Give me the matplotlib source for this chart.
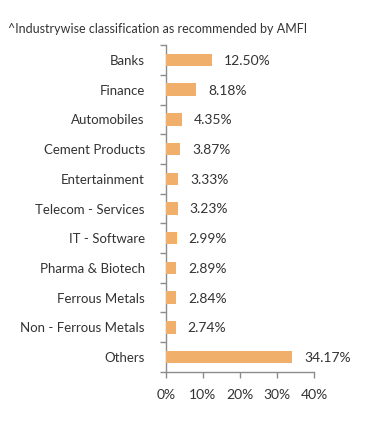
import matplotlib
matplotlib.use('Agg')
import matplotlib.pyplot as plt
import numpy as np

# ── Data ──────────────────────────────────────────────────────────────────────
industries = ['Banks', 'Finance', 'Automobiles', 'Cement Products', 'Entertainment',
              'Telecom - Services', 'IT - Software', 'Pharma & Biotech',
              'Ferrous Metals', 'Non - Ferrous Metals', 'Others']
weights = [12.50, 8.18, 4.35, 3.87, 3.33, 3.23, 2.99, 2.89, 2.84, 2.74, 34.17]
x_ticks = [0, 10, 20, 30, 40]

BAR_COL  = '#F0B06C'
AXIS_COL = '#8C8C8C'
TEXT_COL = '#333333'

plt.rcParams['font.family'] = ['Lato', 'DejaVu Sans']

fig = plt.figure(figsize=(3.91, 4.26), dpi=100)
fig.patch.set_facecolor('white')
ax = fig.add_axes([0.424, 0.127, 0.379, 0.767])

y = np.arange(len(industries))
ax.barh(y, weights, height=0.42, color=BAR_COL, zorder=3)
for yi, val in zip(y, weights):
    ax.text(val + 3.2, yi + 0.03, f'{val:.2f}%', va='center', ha='left',
            fontsize=10, color=TEXT_COL)

ax.set_ylim(len(industries) - 0.5, -0.5)
ax.set_xlim(0, 40)

# category labels on majors, boundary ticks on minors
ax.set_yticks(y)
ax.set_yticklabels(industries, fontsize=9.5, color=TEXT_COL)
ax.tick_params(axis='y', which='major', length=0, pad=15)
ax.set_yticks(np.arange(-0.5, len(industries)), minor=True)
ax.tick_params(axis='y', which='minor', length=4, color=AXIS_COL, width=1)

ax.set_xticks(x_ticks)
ax.set_xticklabels([f'{t}%' for t in x_ticks], fontsize=10, color=TEXT_COL)
ax.tick_params(axis='x', length=4, color=AXIS_COL, width=1, pad=8)

for s in ['top', 'right']:
    ax.spines[s].set_visible(False)
for s in ['left', 'bottom']:
    ax.spines[s].set_color(AXIS_COL)
    ax.spines[s].set_linewidth(1)

fig.text(8 / 391, 1 - 29 / 426, '^Industrywise classification as recommended by AMFI',
         fontsize=9.0, color=TEXT_COL, va='center', ha='left')

plt.savefig('out.png', dpi=100, facecolor='white')
